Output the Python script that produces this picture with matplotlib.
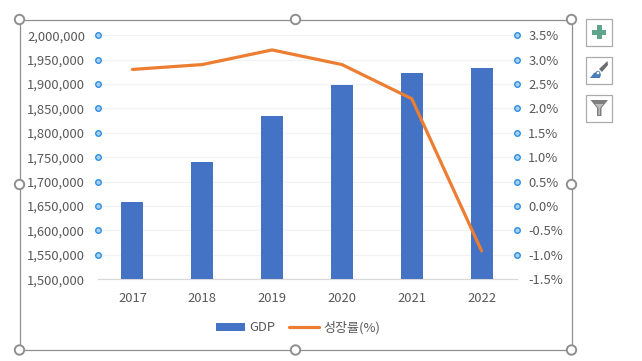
#!/usr/bin/python3
import numpy as np
import matplotlib
matplotlib.use("Agg")
import matplotlib.pyplot as plt
from matplotlib.patches import Rectangle, Circle, Polygon
from matplotlib.ticker import FuncFormatter

plt.rcParams['font.family'] = ['Noto Sans CJK KR', 'DejaVu Sans']

years = ['2017', '2018', '2019', '2020', '2021', '2022']
gdp = [1658000, 1740000, 1835000, 1898000, 1923000, 1933000]
growth = [2.8, 2.9, 3.2, 2.9, 2.2, -0.92]

gdp_ticks = [1500000, 1550000, 1600000, 1650000, 1700000, 1750000, 1800000,
             1850000, 1900000, 1950000, 2000000]
growth_ticks = [-1.5, -1.0, -0.5, 0.0, 0.5, 1.0, 1.5, 2.0, 2.5, 3.0, 3.5]

W, H = 642, 361
text_col = '#595959'
font_px = 13.0
fs = font_px * 72 / 100

fig = plt.figure(figsize=(W / 100, H / 100), dpi=100)
fig.patch.set_facecolor('white')

ax = fig.add_axes([97.5 / W, (H - 279.2) / H, 419 / W, 243.9 / H])
ax2 = ax.twinx()

# bars
x = np.arange(len(years))
bars = ax.bar(x, gdp, width=0.315, color='#4472C4', label='GDP', zorder=3)
ax.set_xlim(-0.5, 5.5)
ax.set_ylim(1500000, 2000000)
ax.set_yticks(gdp_ticks)
ax.yaxis.set_major_formatter(FuncFormatter(lambda v, p: f'{int(v):,}'))
ax.set_xticks(x, years)
ax.grid(axis='y', color='#F2F2F2', linewidth=0.9, zorder=0)
ax.set_axisbelow(True)
ax.tick_params(axis='y', length=0, pad=9, labelsize=fs, labelcolor=text_col)
ax.tick_params(axis='x', length=0, pad=9, labelsize=fs, labelcolor=text_col)
for lab in ax.get_yticklabels():
    lab.set_va('center_baseline')
for s in ['top', 'left', 'right']:
    ax.spines[s].set_visible(False)
ax.spines['bottom'].set_color('#D9D9D9')
ax.spines['bottom'].set_linewidth(0.9)

# line on the second axis
line, = ax2.plot(x, growth, color='#ED7D31', linewidth=2.3, label='성장률(%)',
                 solid_capstyle='round', solid_joinstyle='miter', zorder=4)
ax2.set_ylim(-1.5, 3.5)
ax2.set_yticks(growth_ticks)
ax2.yaxis.set_major_formatter(FuncFormatter(lambda v, p: f'{v:.1f}%'))
ax2.tick_params(axis='y', length=0, pad=8.5, labelsize=fs, labelcolor=text_col)
for s in ax2.spines.values():
    s.set_visible(False)

# selection dots on both value axes
ax2.scatter([0] * 10, gdp_ticks[1:], s=16, facecolor='#A6D0F2', edgecolor='#2E8FE0',
            linewidth=1.0, transform=ax.get_yaxis_transform(), clip_on=False, zorder=6)
ax2.scatter([1] * 10, growth_ticks[1:], s=16, facecolor='#A6D0F2', edgecolor='#2E8FE0',
            linewidth=1.0, transform=ax2.get_yaxis_transform(), clip_on=False, zorder=6)

fig.legend(handles=[bars, line], labels=['GDP', '성장률(%)'], ncols=2, frameon=False,
           loc='center', bbox_to_anchor=(298 / W, (H - 327.5) / H),
           fontsize=fs, labelcolor=text_col, handlelength=2.25, handleheight=0.6,
           handletextpad=0.35, columnspacing=1.05)

# excel selection frame and side buttons, in pixels
ov = fig.add_axes([0, 0, 1, 1], zorder=10)
ov.set_xlim(0, W)
ov.set_ylim(H, 0)
ov.axis('off')
ov.patch.set_alpha(0)

frame_col = '#8F8F8F'
ov.add_patch(Rectangle((19.5, 19.5), 552, 330.5, fill=False, edgecolor=frame_col, linewidth=0.9))
for hx, hy in [(19.5, 19.5), (295.5, 19.5), (571.5, 19.5), (19.5, 184.5),
               (571.5, 184.5), (19.5, 350), (295.5, 350), (571.5, 350)]:
    ov.add_patch(Circle((hx, hy), 4.7, facecolor='white', edgecolor=frame_col, linewidth=1.4, zorder=5))

for by in [18.5, 56.5, 94.5]:
    ov.add_patch(Rectangle((585.5, by), 26.5, 27, facecolor='white', edgecolor='#ABABAB', linewidth=0.9))

# plus
ov.add_patch(Rectangle((592, 29.5), 14, 5, color='#5FA58C', linewidth=0))
ov.add_patch(Rectangle((596.5, 25), 5, 14, color='#5FA58C', linewidth=0))
# brush
ov.add_patch(Polygon([(599, 69), (607.5, 61), (608, 65), (602, 72)], color='#6E6E6E', linewidth=0))
ov.add_patch(Polygon([(590, 78), (594, 73), (598, 71), (601, 74), (600, 78)], color='#4A7EBB', linewidth=0))
ov.add_patch(Circle((598, 73), 1.8, facecolor='white', edgecolor='#4A7EBB', linewidth=0.6))
# funnel
ov.add_patch(Polygon([(590.5, 100), (608, 100), (601.5, 108), (601.5, 116), (597, 116), (597, 108)],
                     color='#7F7F7F', linewidth=0))
ov.add_patch(Polygon([(595, 104), (603.5, 104), (600, 108), (600, 115), (598.5, 115), (598.5, 108)],
                     color='#BDBDBD', linewidth=0))

fig.savefig('out.png', dpi=100)
